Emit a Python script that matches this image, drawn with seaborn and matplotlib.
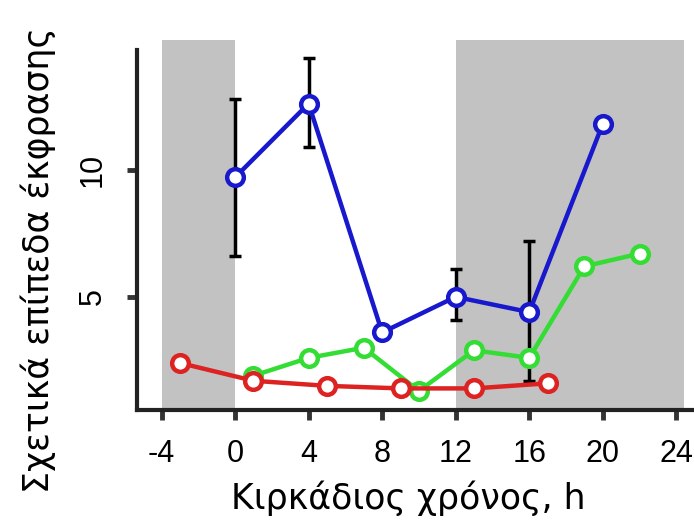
import pandas as pd
import matplotlib
matplotlib.use("Agg")
import matplotlib.pyplot as plt
import seaborn as sns

# series values
blue_t = [0, 4, 8, 12, 16, 20]
blue_y = [9.7, 12.6, 3.6, 5.0, 4.4, 11.8]
blue_lo = [6.6, 10.9, 3.6, 4.1, 1.7, 11.8]
blue_hi = [12.8, 14.4, 3.6, 6.1, 7.2, 11.8]

green_t = [1, 4, 7, 10, 13, 16, 19, 22]
green_y = [1.9, 2.6, 3.0, 1.3, 2.9, 2.6, 6.2, 6.7]

red_t = [-3, 1, 5, 9, 13, 17]
red_y = [2.4, 1.7, 1.5, 1.4, 1.4, 1.6]

dark_spans = [(-4, 0), (12, 24.4)]
x_ticks = [-4, 0, 4, 8, 12, 16, 20, 24]
y_ticks = [5, 10]

sns.set_style("ticks")
plt.rcParams['font.family'] = ['Liberation Sans', 'DejaVu Sans']
plt.rcParams['text.color'] = 'black'
plt.rcParams['axes.labelcolor'] = 'black'
plt.rcParams['xtick.color'] = '#333333'
plt.rcParams['ytick.color'] = '#333333'
plt.rcParams['xtick.labelcolor'] = 'black'
plt.rcParams['ytick.labelcolor'] = 'black'

fig = plt.figure(figsize=(6.94, 5.20), dpi=100)
ax = fig.add_axes([0.197, 0.2115, 0.80, 0.7115])

for a, b in dark_spans:
    ax.axvspan(a, b, color="#c2c2c2", lw=0, zorder=0)

# error bars on the blue series
err_lo = [y - lo for y, lo in zip(blue_y, blue_lo)]
err_hi = [hi - y for y, hi in zip(blue_y, blue_hi)]
ax.errorbar(blue_t, blue_y, yerr=[err_lo, err_hi], fmt="none", ecolor="black",
            elinewidth=2.5, capsize=4, capthick=2.5, zorder=2)

series = [
    (blue_t, blue_y, "#1818cc"),
    (green_t, green_y, "#33dd33"),
    (red_t, red_y, "#dd2222"),
]
for t, y, c in series:
    df = pd.DataFrame({"t": t, "y": y})
    sns.lineplot(data=df, x="t", y="y", ax=ax, color=c, lw=3.2, marker="o",
                 markersize=12, markerfacecolor="white", markeredgecolor=c,
                 markeredgewidth=3.2, zorder=3)

ax.set_xlim(-5.35, 24.85)
ax.set_ylim(0.55, 15.1)
ax.set_xticks(x_ticks)
ax.set_xticklabels([str(v) for v in x_ticks])
ax.set_yticks(y_ticks)
ax.set_yticklabels([str(v) for v in y_ticks], rotation=90, va="center")
ax.tick_params(axis="both", length=7, width=3.5, labelsize=22, direction="out")
ax.tick_params(axis="x", pad=14)
ax.tick_params(axis="y", pad=14)

sns.despine(ax=ax)
for s in ["left", "bottom"]:
    ax.spines[s].set_linewidth(3)
    ax.spines[s].set_color("#222222")
ax.spines["left"].set_bounds(0.55, 14.7)

ax.set_xlabel("Κιρκάδιος χρόνος, h", fontsize=25, family=["DejaVu Sans"])
ax.set_ylabel("Σχετικά επίπεδα έκφρασης", fontsize=25, family=["DejaVu Sans"])
ax.xaxis.set_label_coords(0.49, -0.19)
ax.yaxis.set_label_coords(-0.145, 0.405)

fig.savefig("out.png", dpi=100)
